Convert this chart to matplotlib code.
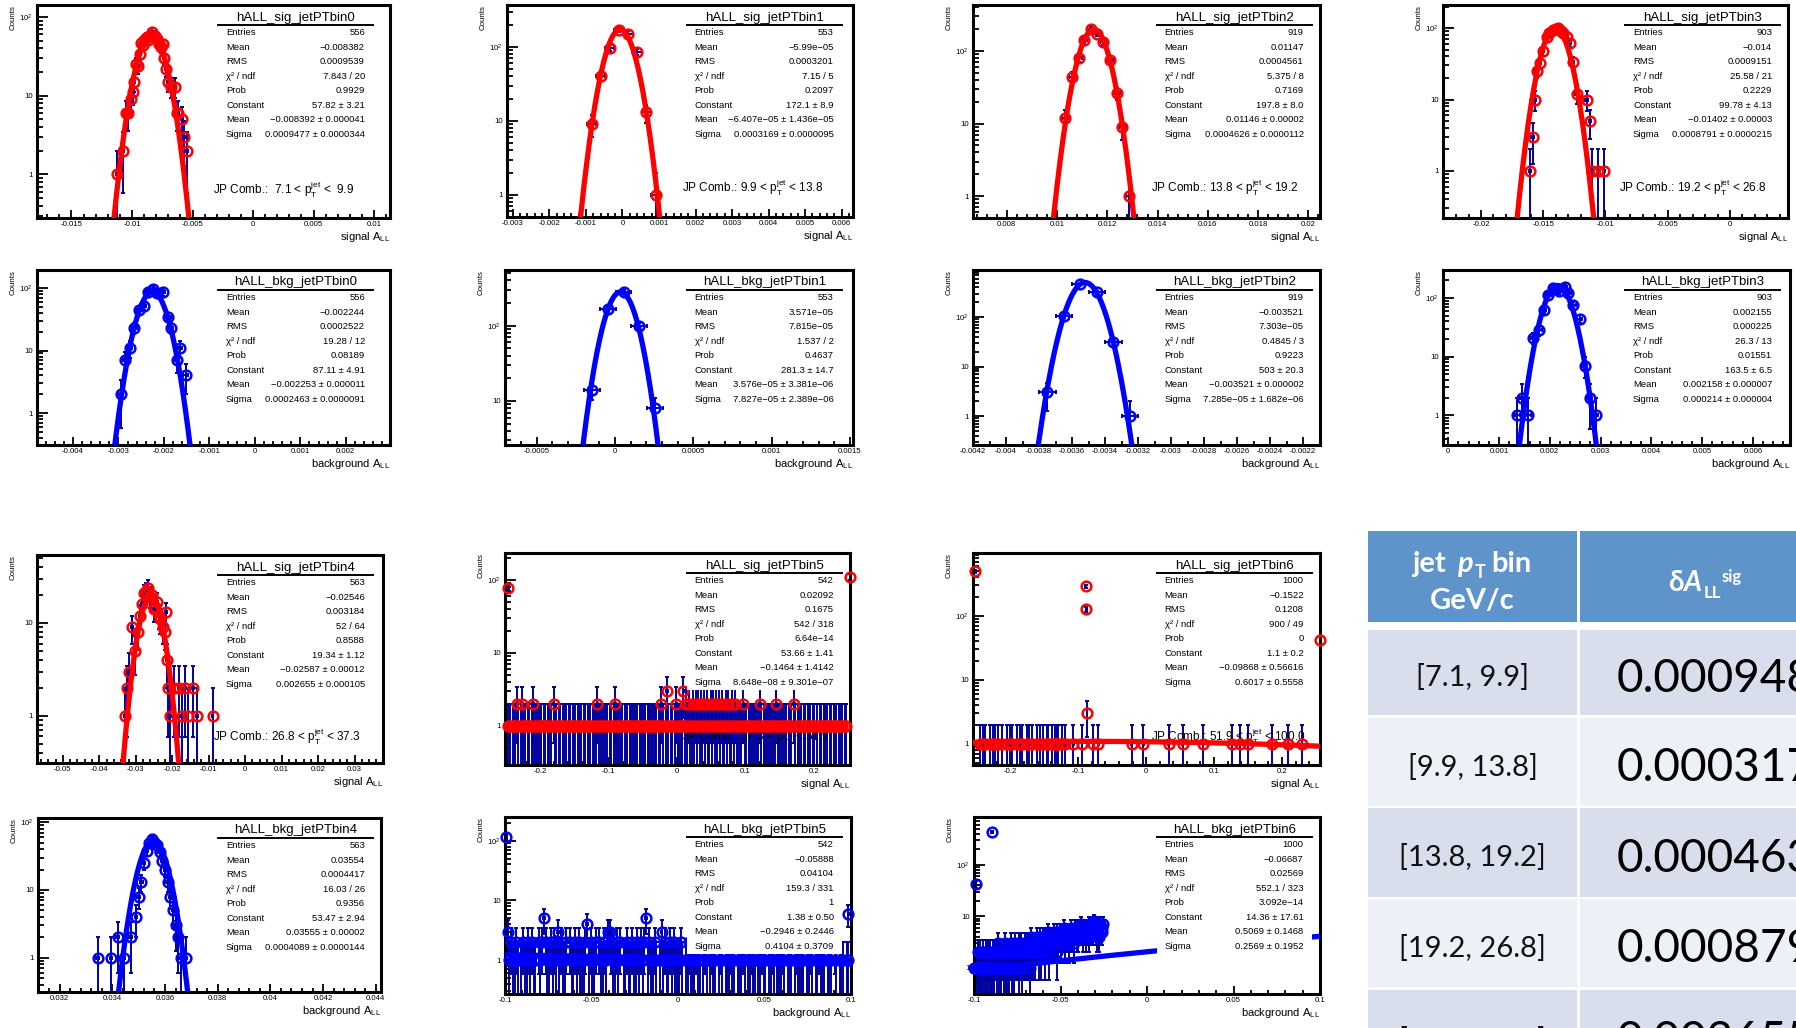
import numpy as np
import matplotlib
matplotlib.use("Agg")
import matplotlib.pyplot as plt
from matplotlib.lines import Line2D
from matplotlib.patches import Rectangle
from matplotlib.ticker import FixedLocator, MultipleLocator, FuncFormatter

# ---------------------------------------------------------------- data
# signal histograms (bin centre, counts)
sig0_x = [-0.01124, -0.01072, -0.0105, -0.01035, -0.01006, -0.00994, -0.00981, -0.00967, -0.00952,
          -0.00937, -0.00922, -0.00908, -0.00893, -0.00879, -0.00864, -0.0085, -0.00835, -0.0082,
          -0.00806, -0.00791, -0.00776, -0.00762, -0.00747, -0.00733, -0.00718, -0.00704, -0.0068,
          -0.00645, -0.0063, -0.00616, -0.00589, -0.00568, -0.00548]
sig0_y = [1, 2, 6, 6, 9, 11, 15, 25, 24, 34, 47, 44, 52, 55, 51, 58, 64, 58, 57, 53, 46, 41, 45, 30,
          22, 15, 13, 13, 6, 6, 5, 3, 2]

sig1_x = [-0.000845, -0.000595, -0.000345, -0.000095, 0.000155, 0.000405, 0.000655, 0.000905]
sig1_y = [9, 41, 98, 171, 151, 86, 13, 1]

sig2_x = [0.01032, 0.01059, 0.01088, 0.01108, 0.01134, 0.01158, 0.01184, 0.01211, 0.01238, 0.0126, 0.01286]
sig2_y = [12, 44, 80, 140, 203, 173, 133, 76, 26, 9, 1]

sig3_x = [-0.01606, -0.01585, -0.01566, -0.01553, -0.01526, -0.015, -0.01472, -0.01451, -0.01419,
          -0.014, -0.01379, -0.0136, -0.01339, -0.01312, -0.01285, -0.01259, -0.01231, -0.01151,
          -0.01124, -0.01111, -0.01058, -0.01012]
sig3_y = [1, 3, 10, 25, 32, 47, 76, 85, 95, 97, 100, 92, 85, 76, 62, 34, 12, 10, 5, 1, 1, 1]

sig4_x = [-0.03288, -0.03242, -0.03178, -0.03105, -0.03014, -0.0294, -0.02877, -0.0283, -0.02767,
          -0.02722, -0.02676, -0.02621, -0.02567, -0.02512, -0.02465, -0.02419, -0.02374, -0.02329,
          -0.02265, -0.02211, -0.02178, -0.02145, -0.02118, -0.02055, -0.01964, -0.01827, -0.01735,
          -0.01644, -0.01581, -0.01434, -0.01324, -0.00895]
sig4_y = [1, 2, 3, 9, 5, 8, 12, 16, 21, 22, 24, 19, 20, 14, 15, 17, 12, 11, 9, 8, 13, 4, 2, 1, 2, 2,
          1, 2, 1, 2, 1, 1]

# bin 5: 250 bins of width 0.002 on [-0.25, 0.25], one digit per bin
sig5_start, sig5_width = -0.249, 0.002
sig5_digits = ("0110111210" "1211011012" "1101110110" "1110211011" "0111011011"
               "1011101101" "1101112101" "1011011012" "1101101110" "1110110101"
               "1101110111" "0112101310" "1101211113" "1212112121" "2121212112"
               "1212121211" "2121121210" "1102110111" "0110121011" "1011011210"
               "1101101110" "2101110110" "1110110101" "1011101101" "1101110110")
sig5_edge_x = [-0.2475, 0.2535]
sig5_edge_y = [77, 109]

sig6_x = [-0.252, -0.2445, -0.240, -0.2371, -0.2297, -0.225, -0.2224, -0.2175, -0.2125, -0.2052,
          -0.200, -0.1978, -0.1904, -0.186, -0.1831, -0.1757, -0.172, -0.1683, -0.161, -0.156,
          -0.1512, -0.146, -0.1439, -0.1389, -0.134, -0.131, -0.1291, -0.1242, -0.119, -0.1071,
          -0.0947, -0.089, -0.088, -0.087, -0.0776, -0.0702, -0.0211, -0.004, 0.0329, 0.054,
          0.0835, 0.1262, 0.1384, 0.1507, 0.1851, 0.2096, 0.2293, 0.256]
sig6_y = [497] + [1] * 30 + [288, 128, 3] + [1] * 13 + [42]

# background histograms
bkg0_x = [-0.002952, -0.002857, -0.002747, -0.002652, -0.002543, -0.00244, -0.002358, -0.002248,
          -0.00216, -0.002029, -0.001905, -0.001846, -0.001721, -0.001648, -0.001523]
bkg0_y = [2, 7, 11, 23, 45, 51, 85, 97, 83, 85, 34, 23, 7, 11, 4]

bkg1_x = [-0.000145, -0.000045, 0.000055, 0.000155, 0.000255]
bkg1_y = [14, 166, 280, 98, 8]

bkg2_x = [-0.00375, -0.00365, -0.00355, -0.00345, -0.00335, -0.00325]
bkg2_y = [3, 108, 470, 320, 32, 1]

bkg3_x = [0.001357, 0.001456, 0.001574, 0.001672, 0.00179, 0.001883, 0.001967, 0.002066, 0.00213,
          0.002184, 0.002296, 0.00236, 0.002459, 0.002591, 0.002689, 0.002788, 0.002906]
bkg3_y = [1, 2, 1, 21, 28, 63, 114, 149, 140, 130, 155, 120, 77, 44, 7, 2, 1]

bkg4_x = [0.03345, 0.03395, 0.0342, 0.03445, 0.0347, 0.0349, 0.0350, 0.0351, 0.0352, 0.0353, 0.0354,
          0.0355, 0.0356, 0.0357, 0.0358, 0.0359, 0.0360, 0.0361, 0.0362, 0.0363, 0.0364, 0.0365,
          0.0366, 0.0368]
bkg4_y = [1, 1, 2, 1, 2, 4, 8, 13, 25, 38, 50, 56, 52, 46, 36, 27, 20, 13, 8, 5, 3, 2, 1, 1]

# bin 5: 200 bins of width 0.001 on [-0.1, 0.1]
bkg5_start, bkg5_width = -0.0995, 0.001
bkg5_digits = ("0312112101" "2112121102" "1252112121" "3121120211" "2121112412"
               "1120211213" "3211212011" "2112112121" "2512112101" "3121121211"
               "1210112111" "2110121012" "1101210111" "2110111210" "1121101121"
               "1011210111" "2101110121" "1110112101" "1211101110" "2101110110")
bkg5_edge_x = [-0.0995, 0.0985]
bkg5_edge_y = [114, 6]

# bin 6: 150 bins of width 0.0005 starting at -0.1
bkg6_start, bkg6_width = -0.09975, 0.0005
bkg6_digits = ("1101211211" "2112112121" "1021221312" "2122131212" "1231221322"
               "2132312232" "3223142323" "2343324234" "3424352434" "4353425345"
               "3546435453" "5464536546" "4657546564" "6574657586" "5746475657")
bkg6_edge_x = [-0.0989, -0.0894]
bkg6_edge_y = [42, 443]

# Gaussian fit results: (Constant, Mean, Sigma)
sig_fits = [(57.82, -0.008392, 0.0009477), (172.1, -6.407e-05, 0.0003169), (197.8, 0.01146, 0.0004626),
            (99.78, -0.01402, 0.0008791), (19.34, -0.02587, 0.002655), (53.66, -0.1464, 8.648e-08),
            (1.1, -0.09868, 0.6017)]
bkg_fits = [(87.11, -0.002253, 0.0002463), (281.3, 3.576e-05, 7.827e-05), (503, -0.003521, 7.285e-05),
            (163.5, 0.002158, 0.000214), (53.47, 0.03555, 0.0004089), (1.38, -0.2946, 0.4104),
            (14.36, 0.5069, 0.2569)]

stat_labels = ["Entries", "Mean", "RMS", "χ² / ndf", "Prob", "Constant", "Mean", "Sigma"]
sig_stats = [
    ["556", "−0.008382", "0.0009539", "7.843 / 20", "0.9929", "57.82 ± 3.21", "−0.008392 ± 0.000041", "0.0009477 ± 0.0000344"],
    ["553", "−5.99e−05", "0.0003201", "7.15 / 5", "0.2097", "172.1 ± 8.9", "−6.407e−05 ± 1.436e−05", "0.0003169 ± 0.0000095"],
    ["919", "0.01147", "0.0004561", "5.375 / 8", "0.7169", "197.8 ± 8.0", "0.01146 ± 0.00002", "0.0004626 ± 0.0000112"],
    ["903", "−0.014", "0.0009151", "25.58 / 21", "0.2229", "99.78 ± 4.13", "−0.01402 ± 0.00003", "0.0008791 ± 0.0000215"],
    ["563", "−0.02546", "0.003184", "52 / 64", "0.8588", "19.34 ± 1.12", "−0.02587 ± 0.00012", "0.002655 ± 0.000105"],
    ["542", "0.02092", "0.1675", "542 / 318", "6.64e−14", "53.66 ± 1.41", "−0.1464 ± 1.4142", "8.648e−08 ± 9.301e−07"],
    ["1000", "−0.1522", "0.1208", "900 / 49", "0", "1.1 ± 0.2", "−0.09868 ± 0.56616", "0.6017 ± 0.5558"],
]
bkg_stats = [
    ["556", "−0.002244", "0.0002522", "19.28 / 12", "0.08189", "87.11 ± 4.91", "−0.002253 ± 0.000011", "0.0002463 ± 0.0000091"],
    ["553", "3.571e−05", "7.815e−05", "1.537 / 2", "0.4637", "281.3 ± 14.7", "3.576e−05 ± 3.381e−06", "7.827e−05 ± 2.389e−06"],
    ["919", "−0.003521", "7.303e−05", "0.4845 / 3", "0.9223", "503 ± 20.3", "−0.003521 ± 0.000002", "7.285e−05 ± 1.682e−06"],
    ["903", "0.002155", "0.000225", "26.3 / 13", "0.01551", "163.5 ± 6.5", "0.002158 ± 0.000007", "0.000214 ± 0.000004"],
    ["563", "0.03554", "0.0004417", "16.03 / 26", "0.9356", "53.47 ± 2.94", "0.03555 ± 0.00002", "0.0004089 ± 0.0000144"],
    ["542", "−0.05888", "0.04104", "159.3 / 331", "1", "1.38 ± 0.50", "−0.2946 ± 0.2446", "0.4104 ± 0.3709"],
    ["1000", "−0.06687", "0.02569", "552.1 / 323", "3.092e−14", "14.36 ± 17.61", "0.5069 ± 0.1468", "0.2569 ± 0.1952"],
]
pt_ranges = ["7.1 < ", "9.9 < ", "13.8 < ", "19.2 < ", "26.8 < ", "37.3 < ", "51.9 < "]
pt_upper = [" <  9.9", " < 13.8", " < 19.2", " < 26.8", " < 37.3", " < 51.9", " < 100.0"]

table_bins = ["[7.1, 9.9]", "[9.9, 13.8]", "[13.8, 19.2]", "[19.2, 26.8]", "[26.8, 37.3]"]
table_dall = ["0.000948", "0.000317", "0.000463", "0.000879", "0.002655"]


def from_digits(start, width, digits, extra_x, extra_y):
    counts = np.array([int(c) for c in digits], float)
    centres = start + width * np.arange(counts.size)
    return list(centres) + list(extra_x), list(counts) + list(extra_y)


sig5_x, sig5_y = from_digits(sig5_start, sig5_width, sig5_digits, sig5_edge_x, sig5_edge_y)
bkg5_x, bkg5_y = from_digits(bkg5_start, bkg5_width, bkg5_digits, bkg5_edge_x, bkg5_edge_y)
bkg6_x, bkg6_y = from_digits(bkg6_start, bkg6_width, bkg6_digits, bkg6_edge_x, bkg6_edge_y)

# ---------------------------------------------------------------- style
W, H, DPI = 1796, 1028, 100
plt.rcParams['font.family'] = ['Liberation Sans', 'DejaVu Sans']
plt.rcParams['mathtext.fontset'] = 'custom'
plt.rcParams['mathtext.rm'] = 'Liberation Sans'
plt.rcParams['mathtext.it'] = 'Liberation Sans:italic'
plt.rcParams['mathtext.bf'] = 'Liberation Sans:bold'

RED, BLUE, NAVY = '#FF0000', '#0000FF', '#00009E'

fig = plt.figure(figsize=(W / DPI, H / DPI), dpi=DPI)
fig.patch.set_facecolor('white')


def ftext(x, y, s, **kw):
    return fig.text(x / W, 1 - y / H, s, **kw)


def xfmt(v, pos=None):
    v = round(v, 9)
    if abs(v) < 1e-12:
        return "0"
    return f"{v:g}"


def yfmt(v, pos=None):
    e = int(round(np.log10(v)))
    if e == 0:
        return "1"
    if e == 1:
        return "10"
    return rf"$10^{{{e}}}$"


def panel(frame, xlim, ylim, xs, ys, bw, mcol, fit, major, minor, title, stats, xlabel, u0, jp=None):
    l, t, r, b = frame
    ax = fig.add_axes([l / W, 1 - b / H, (r - l) / W, (b - t) / H])
    ax.set_yscale('log')
    ax.set_xlim(*xlim)
    ax.set_ylim(*ylim)
    x = np.asarray(xs, float)
    n = np.asarray(ys, float)
    keep = n > 0
    x, n = x[keep], n[keep]
    err = np.sqrt(n)
    lo = np.clip(n - err, 1e-3, None)
    ax.errorbar(x, n, yerr=[n - lo, err], xerr=bw / 2, fmt='none', ecolor=NAVY,
                elinewidth=1.4, capsize=1.7, capthick=1.4, zorder=2)
    ax.plot(x, n, 'o', ms=7.0, mfc='none', mec=mcol, mew=1.8, zorder=3, clip_on=False)
    C, mu, s = fit
    gx = np.linspace(xlim[0], xlim[1], 3000)
    with np.errstate(under='ignore', over='ignore'):
        gy = C * np.exp(-0.5 * ((gx - mu) / s) ** 2)
    gy = np.where(gy > 1e-6, gy, np.nan)
    ax.plot(gx, gy, color=mcol, lw=3.8, zorder=4, solid_capstyle='butt')

    for sp in ax.spines.values():
        sp.set_linewidth(2.2)
    ax.xaxis.set_major_locator(MultipleLocator(major))
    ax.xaxis.set_minor_locator(MultipleLocator(minor))
    ax.xaxis.set_major_formatter(FuncFormatter(xfmt))
    ax.yaxis.set_major_locator(FixedLocator([1, 10, 100, 1000]))
    ax.yaxis.set_minor_locator(FixedLocator([k * 10.0 ** d for d in range(-1, 4) for k in range(2, 10)]))
    ax.yaxis.set_major_formatter(FuncFormatter(yfmt))
    ax.tick_params(axis='x', which='major', direction='in', length=5.5, width=1.3,
                   labelsize=5.6, pad=2.5, top=False)
    ax.tick_params(axis='x', which='minor', direction='in', length=2.7, width=1.3, top=False)
    ax.tick_params(axis='y', which='major', direction='in', length=8, width=1.3,
                   labelsize=5.6, pad=3, right=False)
    ax.tick_params(axis='y', which='minor', direction='in', length=4, width=1.3, right=False)

    ftext(l - 23.5, t, "Counts", rotation=90, ha='center', va='top', fontsize=5.7)
    ftext(r, b + 22, xlabel, ha='right', va='baseline', fontsize=8)

    if jp is not None:
        # sits above the error bars but below the markers
        ax.text(jp[0] / W, 1 - jp[1] / H, jp[2], transform=fig.transFigure, ha='left',
                va='center', fontsize=8.5, zorder=2.5, clip_on=False)

    # statistics box (white, borderless) with title underline
    fig.add_artist(Rectangle((u0 / W, 1 - (t + 137) / H), 155 / W, 133 / H,
                             transform=fig.transFigure, facecolor='white', edgecolor='none', zorder=1))
    ftext(u0 + 77.5, t + 12.5, title, ha='center', va='center', fontsize=9.5)
    fig.add_artist(Line2D([u0 / W, (u0 + 155) / W], [1 - (t + 20) / H] * 2,
                          transform=fig.transFigure, color='black', lw=1.4, zorder=2))
    for i, (lab, val) in enumerate(zip(stat_labels, stats)):
        yy = t + 27.5 + 14.55 * i
        ftext(u0 + 8, yy, lab, ha='left', va='center', fontsize=6.8)
        ftext(u0 + 147, yy, val, ha='right', va='center', fontsize=6.8)
    return ax


SIG_LABEL = r"signal A$_{\mathrm{LL}}$"
BKG_LABEL = r"background A$_{\mathrm{LL}}$"


def jp_text(i):
    return "JP Comb.: " + (" " if i == 0 else "") + pt_ranges[i] + \
        r"$\mathrm{p}_{\mathrm{T}}^{\mathrm{jet}}$" + pt_upper[i]


# ---------------------------------------------------------------- row 1: signal, bins 0-3
panel((37, 5, 390, 218), (-0.01785, 0.01132), (0.28, 142), sig0_x, sig0_y, 0.000146, RED, sig_fits[0],
      0.005, 0.001, "hALL_sig_jetPTbin0", sig_stats[0], SIG_LABEL, 218, (213, 190, jp_text(0)))
panel((507, 5, 853, 217), (-0.00316, 0.00631), (0.5, 370), sig1_x, sig1_y, 0.00025, RED, sig_fits[1],
      0.001, 0.0002, "hALL_sig_jetPTbin1", sig_stats[1], SIG_LABEL, 686.7, (682, 188, jp_text(1)))
panel((973, 5, 1320, 218), (0.00666, 0.02046), (0.5, 430), sig2_x, sig2_y, 0.00026, RED, sig_fits[2],
      0.002, 0.0004, "hALL_sig_jetPTbin2", sig_stats[2], SIG_LABEL, 1156.7, (1151, 188, jp_text(2)))
panel((1443, 5, 1788, 218), (-0.02305, 0.00466), (0.22, 210), sig3_x, sig3_y, 0.0002, RED, sig_fits[3],
      0.005, 0.001, "hALL_sig_jetPTbin3", sig_stats[3], SIG_LABEL, 1625, (1619, 188, jp_text(3)))

# ---------------------------------------------------------------- row 2: background, bins 0-3
panel((37, 270, 390, 445), (-0.00479, 0.00297), (0.31, 194), bkg0_x, bkg0_y, 0.0001, BLUE, bkg_fits[0],
      0.001, 0.0002, "hALL_bkg_jetPTbin0", bkg_stats[0], BKG_LABEL, 218)
panel((505, 270, 853, 445), (-0.000702, 0.00152), (2.6, 550), bkg1_x, bkg1_y, 0.0001, BLUE, bkg_fits[1],
      0.0005, 0.0001, "hALL_bkg_jetPTbin1", bkg_stats[1], BKG_LABEL, 686.7)
panel((973, 270, 1320, 445), (-0.0042, -0.002097), (0.26, 900), bkg2_x, bkg2_y, 0.0001, BLUE, bkg_fits[2],
      0.0002, 0.0001, "hALL_bkg_jetPTbin2", bkg_stats[2], BKG_LABEL, 1156.7)
panel((1443, 270, 1790, 445), (-0.000104, 0.00673), (0.31, 300), bkg3_x, bkg3_y, 0.0001, BLUE, bkg_fits[3],
      0.001, 0.0002, "hALL_bkg_jetPTbin3", bkg_stats[3], BKG_LABEL, 1625)

# ---------------------------------------------------------------- row 3: signal, bins 4-6
panel((37, 555, 383, 763), (-0.0571, 0.0378), (0.31, 54), sig4_x, sig4_y, 0.0005, RED, sig_fits[4],
      0.01, 0.002, "hALL_sig_jetPTbin4", sig_stats[4], SIG_LABEL, 218, (213, 737, jp_text(4)))
panel((505, 553, 850, 765), (-0.252, 0.253), (0.29, 234), sig5_x, sig5_y, 0.002, RED, sig_fits[5],
      0.1, 0.02, "hALL_sig_jetPTbin5", sig_stats[5], SIG_LABEL, 686.7, (682, 737, jp_text(5)))
panel((973, 553, 1320, 765), (-0.255, 0.256), (0.47, 960), sig6_x, sig6_y, 0.001, RED, sig_fits[6],
      0.1, 0.02, "hALL_sig_jetPTbin6", sig_stats[6], SIG_LABEL, 1156.7, (1151, 737, jp_text(6)))

# ---------------------------------------------------------------- row 4: background, bins 4-6
panel((38, 818, 381, 992), (0.03118, 0.0442), (0.31, 116), bkg4_x, bkg4_y, 0.0001, BLUE, bkg_fits[4],
      0.002, 0.0004, "hALL_bkg_jetPTbin4", bkg_stats[4], BKG_LABEL, 218)
panel((505, 817, 851, 994), (-0.1, 0.1), (0.27, 250), bkg5_x, bkg5_y, 0.001, BLUE, bkg_fits[5],
      0.05, 0.01, "hALL_bkg_jetPTbin5", bkg_stats[5], BKG_LABEL, 686.7)
panel((974, 817, 1320, 994), (-0.1, 0.1), (0.31, 850), bkg6_x, bkg6_y, 0.0005, BLUE, bkg_fits[6],
      0.05, 0.01, "hALL_bkg_jetPTbin6", bkg_stats[6], BKG_LABEL, 1156.7)

# ---------------------------------------------------------------- summary table
HDR, ROW_A, ROW_B = '#5E94C9', '#D8DEEC', '#EDF0F6'
TFONT = ['Lato', 'Open Sans', 'DejaVu Sans']


def rect(x0, y0, x1, y1, color):
    fig.add_artist(Rectangle((x0 / W, 1 - y1 / H), (x1 - x0) / W, (y1 - y0) / H,
                             transform=fig.transFigure, facecolor=color, edgecolor='none', zorder=1))


rect(1368, 531, 1577, 622, HDR)
rect(1580, 531, 1810, 622, HDR)
rows_y = [(630, 715), (718, 806), (808, 897), (899, 987), (990, 1080)]
for i, (y0, y1) in enumerate(rows_y):
    col = ROW_A if i % 2 == 0 else ROW_B
    rect(1368, y0, 1577, y1, col)
    rect(1580, y0, 1810, y1, col)
    yc = 0.5 * (y0 + y1)
    ftext(1472.5, yc + 14, table_bins[i], ha='center', va='baseline', fontsize=21,
          family=TFONT, color='#111111')
    ftext(1617, yc + 19, table_dall[i], ha='left', va='baseline', fontsize=33,
          family=TFONT, color='black')

hkw = dict(va='baseline', color='white', family=TFONT, fontweight='bold')
ftext(1411.7, 571.7, "jet", ha='left', fontsize=21, **hkw)
ftext(1457, 571.7, "p", ha='left', fontsize=21, style='italic', **hkw)
ftext(1475, 578, "T", ha='left', fontsize=13, **hkw)
ftext(1491.7, 571.7, "bin", ha='left', fontsize=21, **hkw)
ftext(1472.5, 609.3, "GeV/c", ha='center', fontsize=21, **hkw)
ftext(1668.3, 591, "δ", ha='left', fontsize=20, **hkw)
ftext(1683.3, 591, "A", ha='left', fontsize=20, style='italic', **hkw)
ftext(1704, 598, "LL", ha='left', fontsize=12, **hkw)
ftext(1722, 581.7, "sig", ha='left', fontsize=12, **hkw)

fig.savefig("out.png", dpi=DPI)
